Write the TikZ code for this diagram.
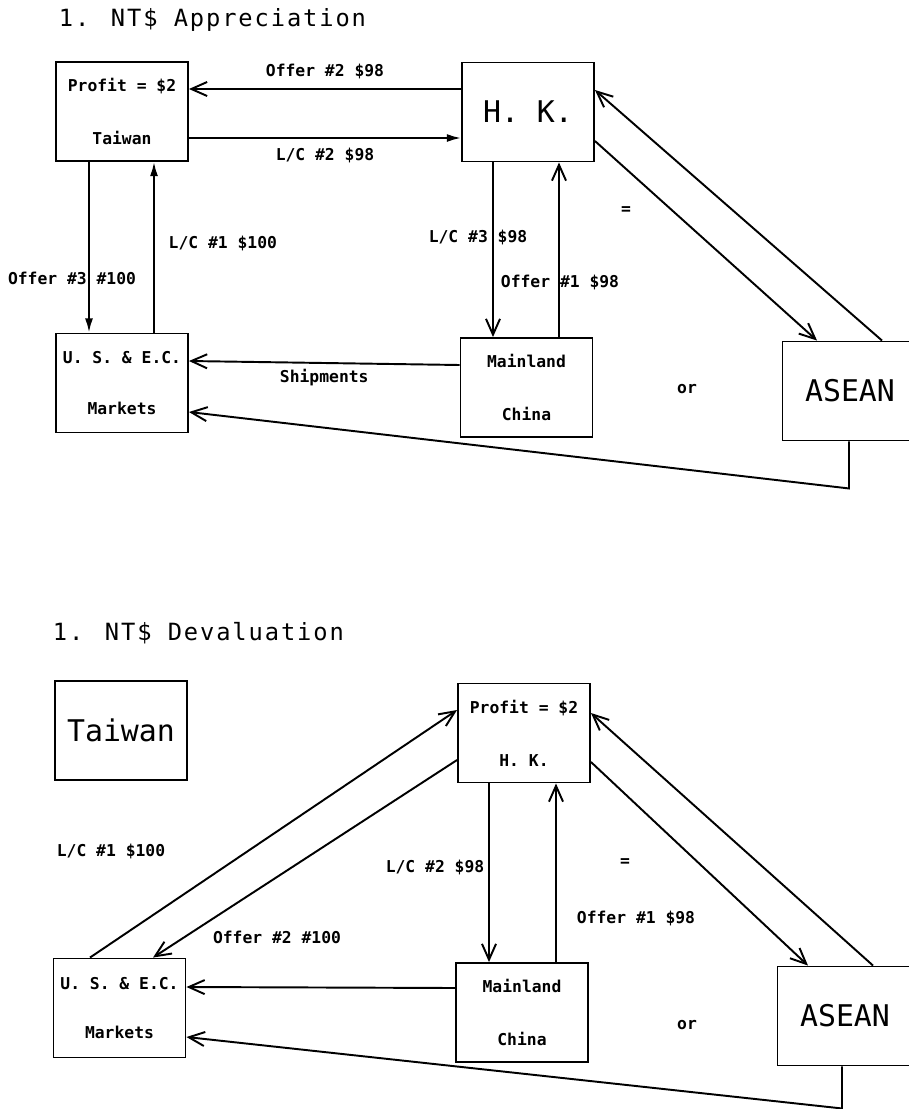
\documentclass[tikz,border=0pt]{standalone}
\usepackage{fontspec}
\usetikzlibrary{arrows.meta,calc}
\newfontfamily\plotfont{DejaVu Sans Mono}
\newfontfamily\plottitle[LetterSpace=8]{DejaVu Sans Mono}

\begin{document}
\begin{tikzpicture}[x=0.02cm,y=-0.02cm,line width=1.1pt,
  mkt/.style={draw,minimum width=2.64cm,minimum height=1.98cm,inner sep=0pt,align=center,font=\plotfont\bfseries\fontsize{9.3}{11}\selectfont,execute at begin node={\rule{0pt}{11.5pt}}},
  bigmkt/.style={mkt,font=\plotfont\fontsize{17}{20}\selectfont},
  lbl/.style={inner sep=1pt,font=\plotfont\bfseries\fontsize{9.3}{11}\selectfont},
  ttl/.style={anchor=west,inner sep=0pt,font=\plottitle\fontsize{13.5}{16}\selectfont},
  opn/.style={-{Straight Barb[length=9pt,width=8pt]}},
  sld/.style={-{Latex[length=8pt,width=4.5pt]}}]
\useasboundingbox (0,0) rectangle (909,1109);

% appreciation
\node[ttl] (ttlA) at (58,20) {1. NT\$ Appreciation};
\node[mkt] (twA) at (122,111.5) {Profit = \$2\\[19pt]Taiwan};
\node[bigmkt] (hkA) at (528,112) {H. K.};
\node[mkt] (usA) at (122,383) {U. S. \& E.C.\\[18pt]Markets};
\node[mkt] (mcA) at (526.5,387.5) {Mainland\\[19pt]China};
\node[bigmkt,minimum width=2.7cm] (asA) at (850,391) {ASEAN};
\draw[opn] ($(hkA.west)+(0,-23)$) -- ($(twA.east)+(0,-22.5)$) node[lbl,midway,above=4pt] (lOffA2) {Offer \#2 \$98};
\draw[sld] ($(twA.east)+(0,26.5)$) -- ($(hkA.west)+(0,26)$) node[lbl,midway,below=4pt] (lLCA2) {L/C \#2 \$98};
\draw[sld] ($(twA.south)+(-33,0)$) -- ($(usA.north)+(-33,0)$);
\draw[sld] ($(usA.north)+(32,0)$) -- ($(twA.south)+(32,0)$);
\draw[opn] ($(hkA.south)+(-35,0)$) -- ($(mcA.north)+(-33.5,0)$);
\draw[opn] ($(mcA.north)+(32.5,0)$) -- ($(hkA.south)+(31,0)$);
\draw[opn] ($(mcA.west)+(0,-22.5)$) -- ($(usA.east)+(0,-22)$) node[lbl,midway,below=2pt] (lShipA) {Shipments};
\draw[opn] ($(asA.south)+(-1,0)$) -- ++(0,47) -- ($(usA.east)+(0,29)$);
\draw[opn] ($(hkA.east)+(0,29)$) -- ($(asA.north)+(-33,0)$);
\draw[opn] ($(asA.north)+(32,0)$) -- ($(hkA.east)+(0,-22)$);
\node[lbl] (lOffA3) at (72,278) {Offer \#3 \#100};
\node[lbl,anchor=west] (lLCA1) at (166,243) {L/C \#1 \$100};
\node[lbl] (lLCA3) at (478,237) {L/C \#3 \$98};
\node[lbl] (lOffA1) at (560,282) {Offer \#1 \$98};
\node[lbl] (eqA) at (626,211) {=};
\node[lbl] (orA) at (687,389) {or};

% devaluation
\node[ttl] (ttlB) at (52,633) {1. NT\$ Devaluation};
\node[bigmkt] (twB) at (121,730.5) {Taiwan};
\node[mkt] (hkB) at (524,733) {Profit = \$2\\[19pt]H. K.};
\node[mkt] (usB) at (119.5,1008) {U. S. \& E.C.\\[17pt]Markets};
\node[mkt] (mcB) at (522,1012.5) {Mainland\\[19pt]China};
\node[bigmkt,minimum width=2.7cm] (asB) at (845,1016) {ASEAN};
\draw[opn] ($(usB.north)+(-29.5,0)$) -- ($(hkB.west)+(0,-23)$);
\draw[opn] ($(hkB.west)+(0,27)$) -- ($(usB.north)+(33.5,0)$);
\draw[opn] ($(hkB.south)+(-35,0)$) -- ($(mcB.north)+(-33,0)$);
\draw[opn] ($(mcB.north)+(34,0)$) -- ($(hkB.south)+(32,0)$);
\draw[opn] ($(mcB.west)+(0,-24.5)$) -- ($(usB.east)+(0,-21)$);
\draw[opn] ($(asB.south)+(-3,0)$) -- ++(0,42) -- ($(usB.east)+(0,29)$);
\draw[opn] ($(hkB.east)+(0,29)$) -- ($(asB.north)+(-37,0)$);
\draw[opn] ($(asB.north)+(28,0)$) -- ($(hkB.east)+(0,-20)$);
\node[lbl] (lLCB1) at (111,851) {L/C \#1 \$100};
\node[lbl] (lOffB2) at (277,937) {Offer \#2 \#100};
\node[lbl] (lLCB2) at (435,867) {L/C \#2 \$98};
\node[lbl] (lOffB1) at (636,918) {Offer \#1 \$98};
\node[lbl] (eqB) at (625,863) {=};
\node[lbl] (orB) at (687,1025) {or};
\end{tikzpicture}
\end{document}
